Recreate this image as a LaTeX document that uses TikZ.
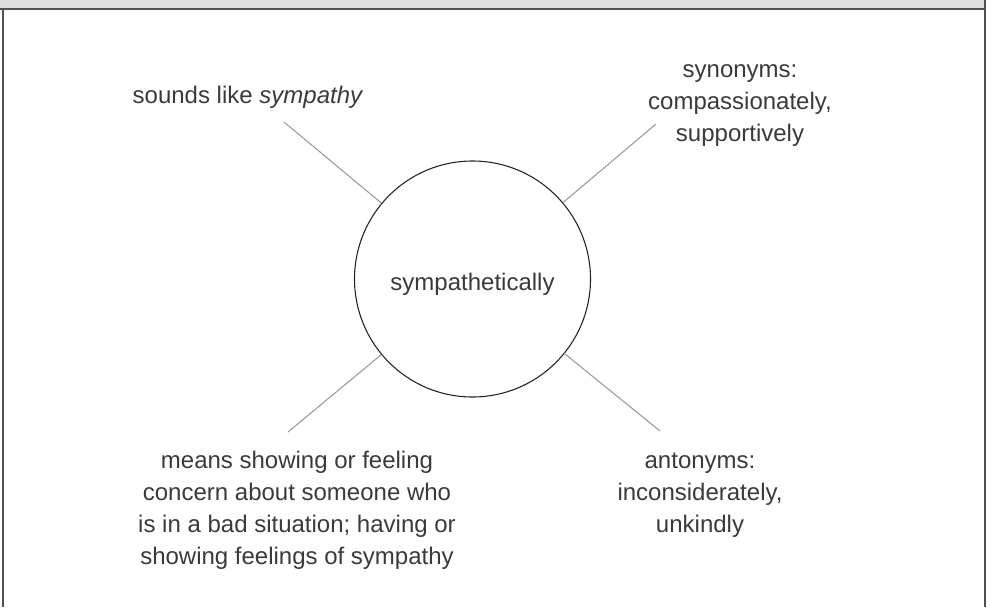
\documentclass[tikz,border=0pt]{standalone}
\usepackage{fontspec}
\setmainfont{Liberation Sans}
\definecolor{bargray}{HTML}{DCDCDC}
\definecolor{framegray}{HTML}{505050}
\definecolor{linegray}{HTML}{9A9A9A}
\definecolor{txtgray}{HTML}{3A3A3A}
\definecolor{circgray}{HTML}{222222}
\begin{document}
\begin{tikzpicture}[x=0.75pt,y=-0.75pt,
  lbl/.style={text=txtgray, font=\fontsize{18}{24}\selectfont, align=center, inner sep=0pt, anchor=north},
  conn/.style={draw=linegray, line width=0.8pt},
  frame/.style={draw=framegray, line width=1.5pt}]
\useasboundingbox (0,0) rectangle (987,607);
\fill[bargray] (0,0) rectangle (985,8.5);
\draw[frame] (0,8.5) -- (985,8.5);
\draw[frame] (2.5,8.5) -- (2.5,607);
\draw[frame] (985,0) -- (985,607);
\node[circle, draw=circgray, line width=0.8pt, minimum size=177pt, inner sep=0pt,
      text=txtgray, font=\fontsize{18}{24}\selectfont, text height=16.5pt, text depth=0pt]
      (c) at (472.5,279) {sympathetically};
\coordinate (ul) at (284,122);
\coordinate (ur) at (656,124);
\coordinate (ll) at (288,432);
\coordinate (lr) at (660,431);
\draw[conn] (c) -- (ul);
\draw[conn] (c) -- (ur);
\draw[conn] (c) -- (ll);
\draw[conn] (c) -- (lr);
\node[lbl] (tul) at (248,80.6) {\strut sounds like \textit{sympathy}};
\node[lbl] (tur) at (740,54.6) {\strut synonyms:\\compassionately,\\supportively};
\node[lbl] (tll) at (297,445.6) {\strut means showing or feeling\\concern about someone who\\is in a bad situation; having or\\showing feelings of sympathy};
\node[lbl] (tlr) at (700,445.6) {\strut antonyms:\\inconsiderately,\\unkindly};
\end{tikzpicture}
\end{document}
